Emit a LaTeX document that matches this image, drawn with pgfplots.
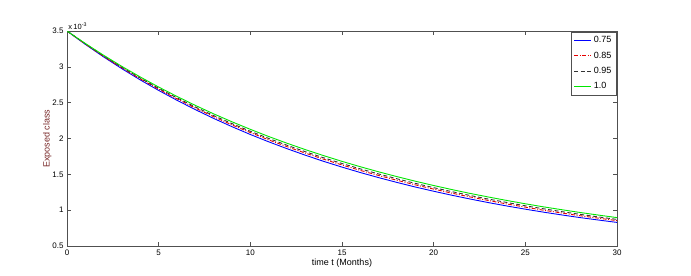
\documentclass[border=0pt]{standalone}
\usepackage{pgfplots}
\pgfplotsset{compat=1.18}
\usepackage{fontspec}
\setmainfont{Liberation Sans}
\definecolor{axgray}{RGB}{80,80,80}
\definecolor{ylab}{RGB}{120,40,40}
\definecolor{mgreen}{RGB}{0,230,0}
\definecolor{mred}{RGB}{230,0,0}
\begin{document}
\begin{tikzpicture}
\path[use as bounding box] (-67bp,-30bp) rectangle (624bp,246bp);
\begin{axis}[
  at={(0,0)}, anchor=south west,
  scale only axis, width=550bp, height=215bp,
  xmin=0, xmax=30, ymin=0.5, ymax=3.5,
  xtick={0,5,...,30}, ytick={0.5,1,...,3.5},
  tick align=inside,
  major tick length=4bp,
  axis line style={axgray, line width=0.9pt},
  every tick/.style={axgray, line width=0.6pt},
  tick label style={font=\fontsize{8bp}{9.5bp}\selectfont},
  /pgf/number format/assume math mode=true,
  yticklabel style={/pgf/number format/fixed},
  xlabel={time t (Months)},
  ylabel={Exposed class},
  xlabel style={font=\fontsize{9bp}{11bp}\selectfont, yshift=3bp},
  ylabel style={font=\fontsize{9bp}{11bp}\selectfont, color=ylab, yshift=-6bp},
  legend style={at={(1,1)}, anchor=north east, xshift=-1bp, yshift=-1bp,
    font=\fontsize{9bp}{10bp}\selectfont, draw=axgray,
    row sep=3.5bp, inner sep=2.5bp},
  legend cell align=left,
  clip mode=individual,
]
\addplot[blue, line width=0.9pt] coordinates {
(0,3.500)(1,3.314)(2,3.138)(3,2.973)(4,2.817)(5,2.671)(6,2.533)(7,2.403)(8,2.280)(9,2.165)(10,2.056)
(11,1.954)(12,1.858)(13,1.767)(14,1.681)(15,1.601)(16,1.525)(17,1.454)(18,1.387)(19,1.323)(20,1.264)
(21,1.208)(22,1.155)(23,1.105)(24,1.058)(25,1.014)(26,0.972)(27,0.933)(28,0.896)(29,0.862)(30,0.829)};
\addlegendentry{0.75}
\addplot[mred, line width=0.9pt, dash pattern=on 4pt off 1.5pt on 1pt off 1.5pt] coordinates {
(0,3.500)(1,3.318)(2,3.146)(3,2.985)(4,2.832)(5,2.688)(6,2.553)(7,2.425)(8,2.304)(9,2.190)(10,2.083)
(11,1.981)(12,1.886)(13,1.796)(14,1.711)(15,1.631)(16,1.555)(17,1.484)(18,1.417)(19,1.353)(20,1.294)
(21,1.237)(22,1.184)(23,1.134)(24,1.086)(25,1.042)(26,0.999)(27,0.960)(28,0.922)(29,0.888)(30,0.854)};
\addlegendentry{0.85}
\addplot[black!80, line width=0.9pt, dash pattern=on 4pt off 2.5pt] coordinates {
(0,3.500)(1,3.322)(2,3.152)(3,2.993)(4,2.843)(5,2.701)(6,2.567)(7,2.440)(8,2.320)(9,2.208)(10,2.101)
(11,2.001)(12,1.906)(13,1.816)(14,1.731)(15,1.651)(16,1.576)(17,1.505)(18,1.438)(19,1.374)(20,1.314)
(21,1.258)(22,1.204)(23,1.154)(24,1.107)(25,1.061)(26,1.019)(27,0.979)(28,0.941)(29,0.905)(30,0.871)};
\addlegendentry{0.95}
\addplot[mgreen, line width=0.9pt] coordinates {
(0,3.500)(1,3.326)(2,3.161)(3,3.005)(4,2.858)(5,2.718)(6,2.587)(7,2.462)(8,2.344)(9,2.233)(10,2.128)
(11,2.028)(12,1.934)(13,1.845)(14,1.761)(15,1.681)(16,1.606)(17,1.535)(18,1.468)(19,1.404)(20,1.344)
(21,1.287)(22,1.233)(23,1.183)(24,1.135)(25,1.089)(26,1.046)(27,1.006)(28,0.967)(29,0.931)(30,0.896)};
\addlegendentry{1.0}
\node[anchor=south west, inner sep=0pt, yshift=1bp, font=\fontsize{7.5bp}{9bp}\selectfont] at (rel axis cs:0,1) {\,x\,10\textsuperscript{-3}};
\end{axis}
\end{tikzpicture}
\end{document}
